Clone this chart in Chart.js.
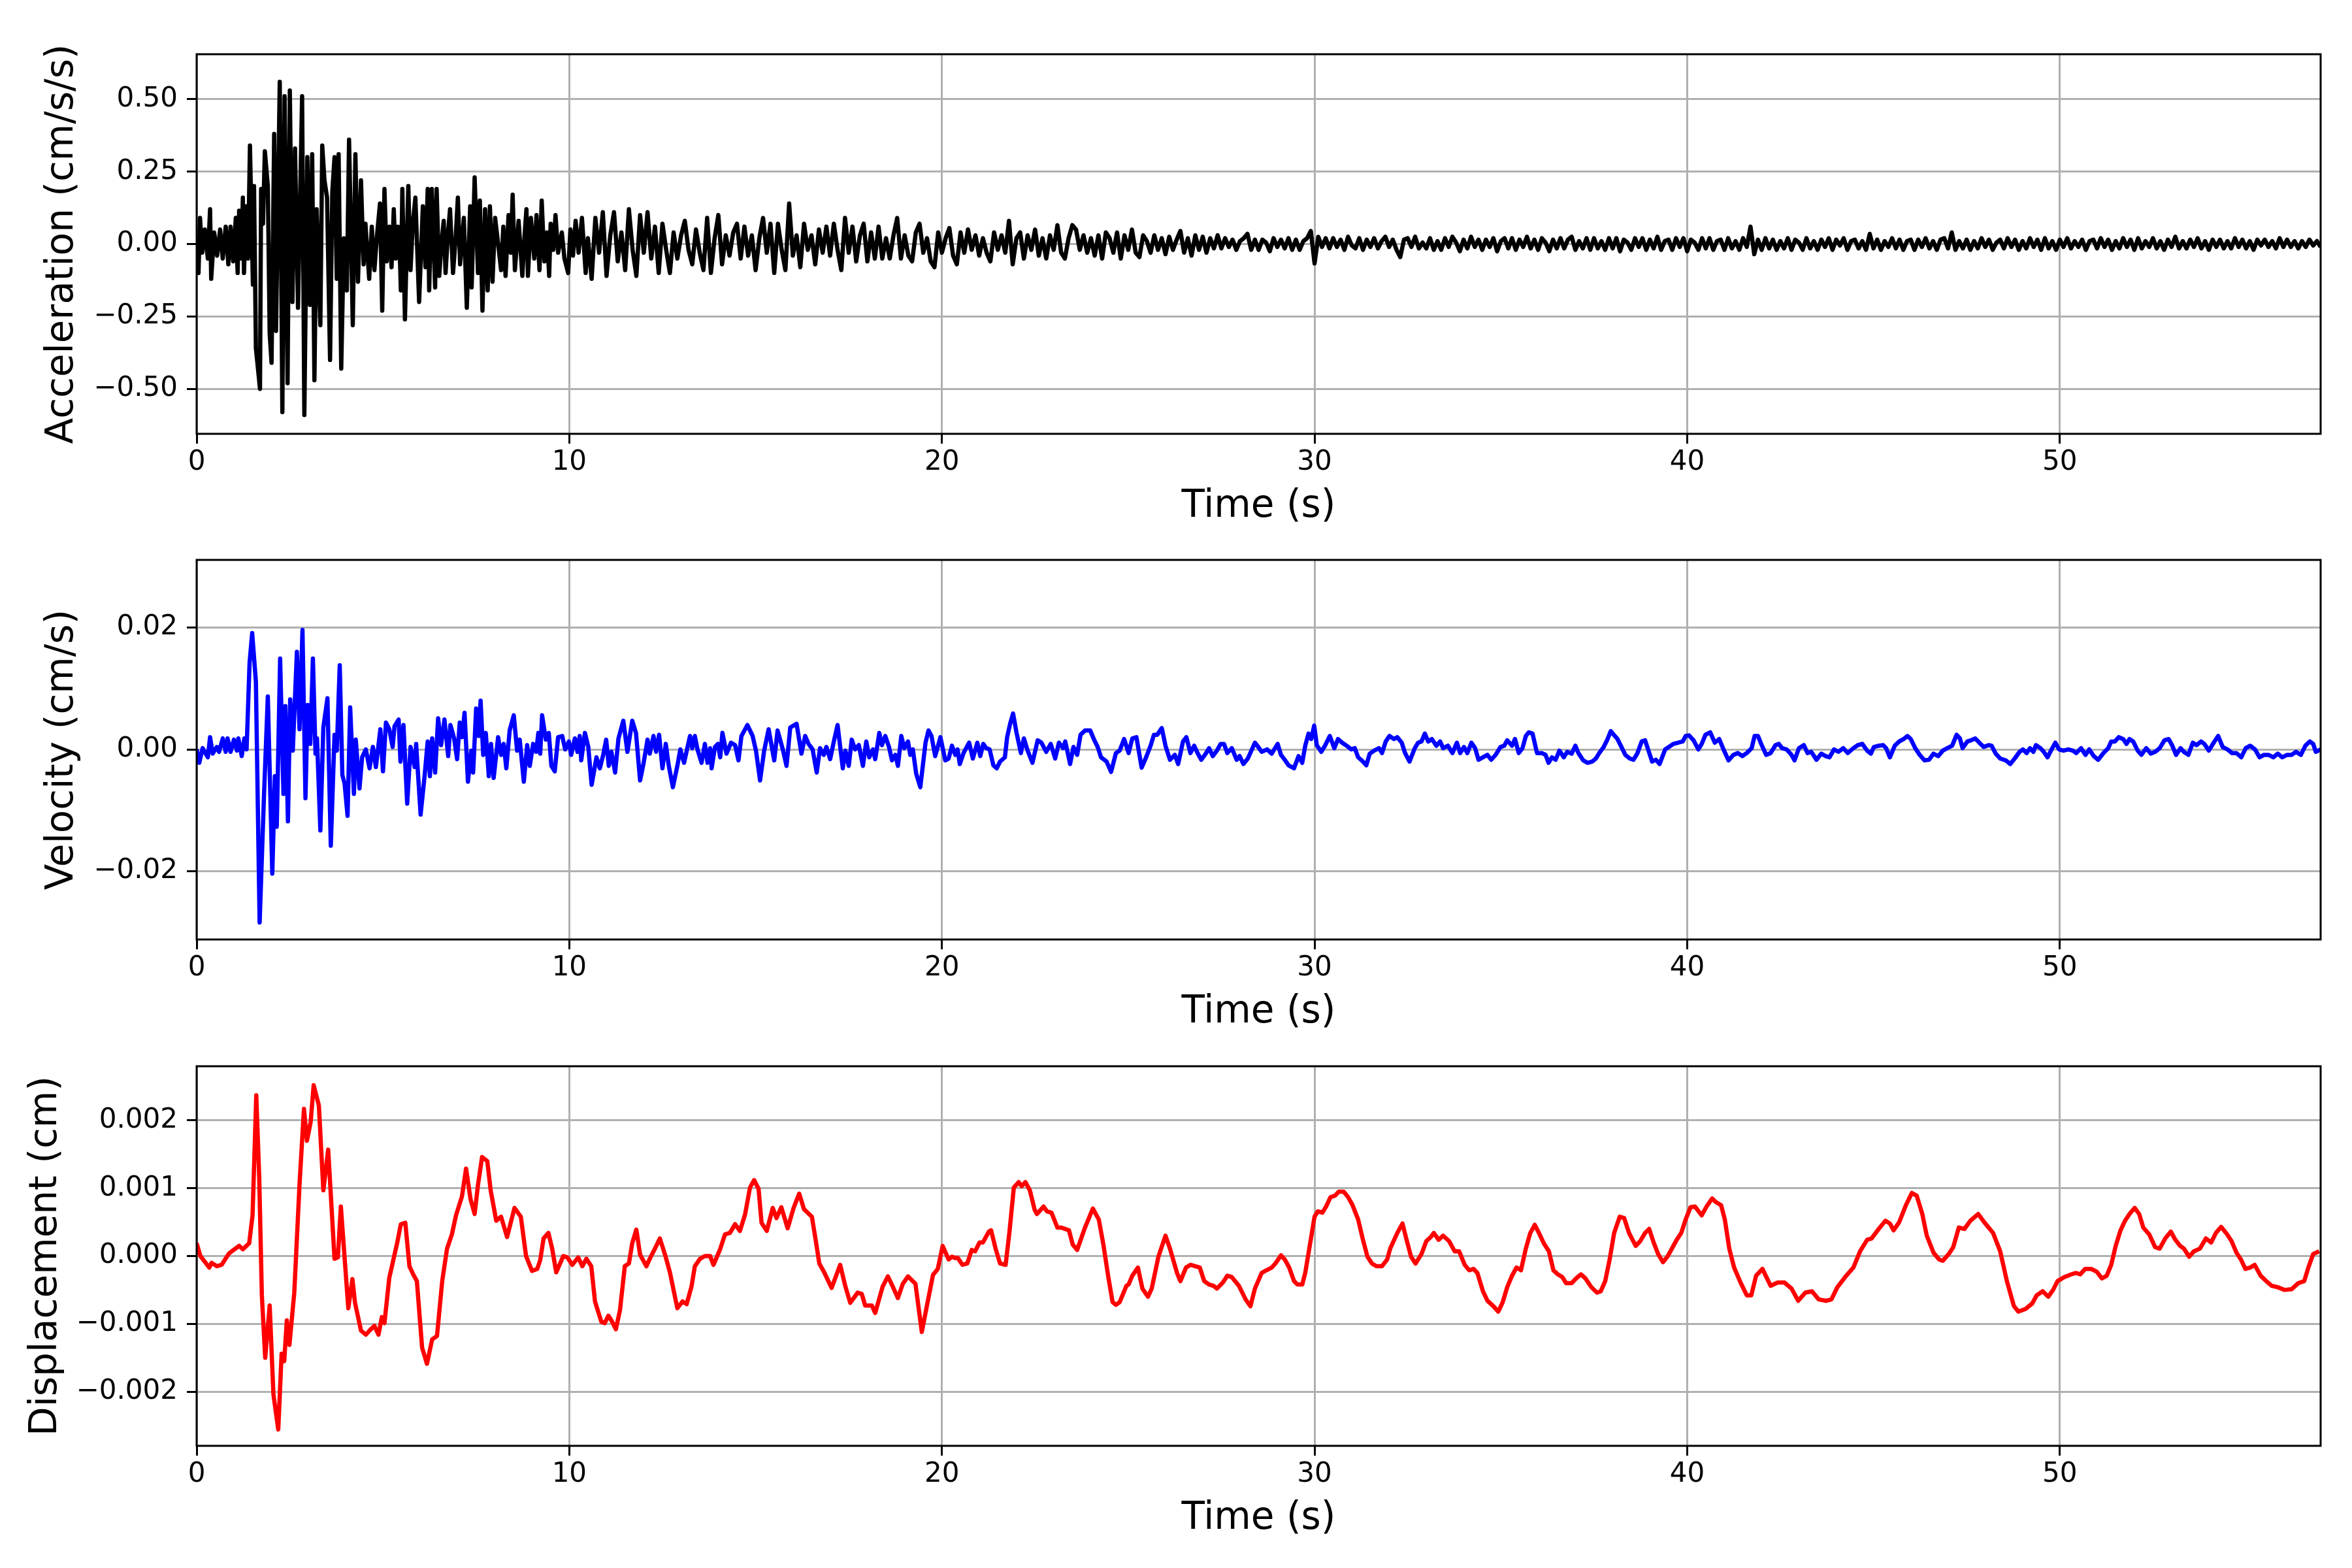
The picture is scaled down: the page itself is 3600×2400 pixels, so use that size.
<!DOCTYPE html>
<html>
<head>
<meta charset="utf-8">
<script src="https://cdn.jsdelivr.net/npm/chart.js@4.4.1/dist/chart.umd.min.js"></script>
<style>
    body { margin: 0; background: #ffffff; width: 3600px; height: 2400px; overflow: hidden; }
    canvas { position: absolute; left: 0; }
</style>
</head>
<body>
<canvas id="accChart" width="3600" height="830" style="top:0px"></canvas>
<canvas id="velChart" width="3600" height="830" style="top:774px"></canvas>
<canvas id="dispChart" width="3600" height="830" style="top:1549px"></canvas>
<script>
// ===============================
// DATA
// ===============================
const timeTicks = [0, 10, 20, 30, 40, 50];
const accTicks = [-0.5, -0.25, 0, 0.25, 0.5];
const velTicks = [-0.02, 0, 0.02];
const dispTicks = [-0.002, -0.001, 0, 0.001, 0.002];

// acceleration, strong-motion part: peaks and troughs (s, cm/s/s)
const accTime = [
    0, 0.05, 0.09, 0.15, 0.22, 0.3, 0.36, 0.39, 0.47, 0.55, 0.63, 0.7, 0.78, 0.85, 0.91, 0.98,
    1.05, 1.1, 1.14, 1.2, 1.24, 1.27, 1.33, 1.38, 1.43, 1.51, 1.54, 1.59, 1.63, 1.7, 1.73, 1.78,
    1.83, 1.91, 1.96, 2.01, 2.08, 2.13, 2.23, 2.3, 2.36, 2.44, 2.5, 2.57, 2.64, 2.72, 2.83, 2.89,
    2.97, 3.04, 3.1, 3.16, 3.22, 3.32, 3.37, 3.43, 3.5, 3.58, 3.64, 3.7, 3.76, 3.81, 3.88, 3.95,
    4.03, 4.09, 4.19, 4.26, 4.33, 4.41, 4.48, 4.53, 4.63, 4.7, 4.77, 4.84, 4.92, 4.98, 5.04, 5.1,
    5.17, 5.23, 5.29, 5.34, 5.4, 5.46, 5.48, 5.52, 5.59, 5.68, 5.74, 5.8, 5.87, 5.97, 6.07, 6.14,
    6.2, 6.24, 6.31, 6.4, 6.44, 6.51, 6.57, 6.63, 6.68, 6.74, 6.8, 6.88, 6.95, 7.01, 7.07, 7.17,
    7.25, 7.34, 7.38, 7.46, 7.55, 7.6, 7.67, 7.74, 7.81, 7.87, 7.94, 8.01, 8.1, 8.17, 8.23, 8.29,
    8.37, 8.43, 8.48, 8.54, 8.64, 8.74, 8.8, 8.85, 8.89, 8.97, 9.06, 9.12, 9.2, 9.26, 9.33, 9.4,
    9.46, 9.5, 9.57, 9.63, 9.7, 9.8, 9.87, 9.97, 10.03, 10.1, 10.17, 10.25, 10.34, 10.44
];
const accValue = [
    0.02, -0.1, 0.09, -0.03, 0.05, -0.05, 0.12, -0.12, 0.04, -0.04, 0.05, -0.05, 0.06, -0.07, 0.06, -0.06,
    0.09, -0.1, 0.115, -0.05, 0.16, -0.1, 0.13, -0.05, 0.34, -0.14, 0.2, -0.36, -0.41, -0.5, 0.19, 0.07,
    0.32, 0.2, -0.31, -0.41, 0.38, -0.3, 0.56, -0.58, 0.51, -0.48, 0.53, -0.2, 0.33, -0.22, 0.51, -0.59,
    0.3, -0.21, 0.31, -0.47, 0.12, -0.28, 0.34, 0.22, 0.16, -0.4, 0.18, 0.3, -0.12, 0.31, -0.43, 0.02,
    -0.16, 0.36, -0.28, 0.31, -0.13, 0.22, -0.07, 0.07, -0.12, 0.06, -0.09, 0.03, 0.14, -0.23, 0.19, -0.06,
    0.06, -0.08, 0.12, -0.05, 0.06, -0.07, -0.16, 0.19, -0.26, 0.2, -0.09, 0.07, 0.16, -0.2, 0.13, -0.08,
    0.19, -0.16, 0.19, -0.15, 0.19, -0.11, 0.0, 0.08, -0.1, 0.03, 0.12, -0.1, 0.02, 0.16, -0.07, 0.09,
    -0.22, 0.13, -0.15, 0.23, -0.1, 0.15, -0.23, 0.12, -0.16, 0.13, -0.13, 0.09, -0.01, -0.09, 0.06, -0.11,
    0.1, -0.03, 0.17, -0.09, 0.08, -0.11, 0.03, 0.12, -0.11, 0.09, -0.05, 0.1, -0.09, 0.15, -0.06, 0.04,
    -0.11, 0.07, -0.02, 0.1, -0.03, 0.04, -0.05, -0.1, 0.05, -0.04, 0.08, -0.03, 0.09, -0.1
];

// acceleration coda, every 0.1 s from 10.5 s
const accTailStart = 10.5;
const accTailStep = 0.1;
const accTail = [
    0.02, -0.12, 0.09, -0.03, 0.11, -0.11, 0.03, 0.11, -0.06, 0.04,
    -0.09, 0.12, -0.02, -0.11, 0.10, -0.03, 0.11, -0.05, 0.06, -0.10,
    0.07, -0.02, -0.10, 0.04, -0.05, 0.03, 0.08, -0.02, -0.07, 0.05,
    -0.03, -0.09, 0.09, -0.10, 0.02, 0.10, -0.07, 0.03, -0.04, 0.04,
    0.07, -0.05, 0.06, -0.04, 0.03, -0.09, 0.02, 0.09, -0.03, 0.07,
    -0.10, 0.07, -0.02, -0.09, 0.14, -0.04, 0.03, -0.08, 0.07, -0.02,
    0.03, -0.07, 0.05, -0.03, 0.06, -0.04, 0.07, -0.02, -0.09, 0.09,
    -0.03, 0.06, -0.06, 0.03, 0.07, -0.06, 0.04, -0.05, 0.06, -0.05,
    0.02, -0.05, 0.03, 0.09, -0.05, 0.03, -0.04, -0.06, 0.04, 0.07,
    -0.03, 0.02, -0.06, -0.08, 0.04, -0.03, 0.02, 0.055, -0.04, -0.07,
    0.04, -0.03, 0.05, -0.02, 0.03, -0.04, 0.02, -0.03, -0.06, 0.04,
    -0.02, 0.03, -0.03, 0.08, -0.07, 0.02, 0.04, -0.05, 0.03, -0.02,
    0.05, -0.04, 0.02, -0.05, 0.03, -0.02, 0.065, -0.03, -0.05, 0.02,
    0.065, 0.05, -0.02, 0.03, -0.03, 0.02, -0.04, 0.03, -0.05, 0.04,
    0.02, -0.03, 0.04, -0.05, 0.03, -0.02, 0.05, -0.03, -0.045, 0.03,
    0.01, -0.03, 0.03, -0.02, 0.02, -0.035, 0.025, -0.02, 0.015, 0.045,
    -0.03, 0.02, -0.04, 0.03, -0.02, 0.025, -0.03, 0.02, -0.015, 0.03,
    -0.015, 0.02, -0.01, 0.015, -0.02, 0.01, 0.02, 0.035, -0.02, 0.015,
    -0.02, 0.015, 0.005, -0.025, 0.02, -0.01, 0.015, -0.015, 0.02, -0.02,
    0.015, -0.02, 0.01, 0.02, 0.045, -0.067, 0.025, -0.01, 0.02, -0.015,
    0.02, -0.01, 0.015, -0.02, 0.025, -0.005, -0.015, 0.02, -0.02, 0.015,
    -0.01, 0.02, -0.015, 0.01, 0.025, -0.01, 0.015, -0.02, -0.045, 0.015,
    0.02, -0.01, 0.025, -0.015, 0.005, -0.015, 0.02, -0.02, 0.01, -0.02,
    0.02, -0.01, 0.025, 0.005, -0.025, 0.015, -0.015, 0.025, -0.01, 0.015,
    -0.02, 0.015, -0.01, 0.02, -0.025, 0.01, 0.02, -0.015, 0.02, -0.02,
    0.015, -0.01, 0.025, -0.015, 0.015, -0.02, 0.02, 0.005, -0.025, 0.015,
    -0.015, 0.02, -0.015, 0.015, 0.025, -0.02, 0.01, -0.015, 0.02, -0.02,
    0.02, -0.015, 0.01, -0.02, 0.02, -0.015, 0.02, -0.025, 0.015, 0.005,
    -0.02, 0.02, -0.01, 0.02, -0.02, 0.015, -0.015, 0.025, -0.02, 0.01,
    0.015, -0.02, 0.02, -0.01, 0.02, -0.025, 0.015, 0.005, -0.02, 0.02,
    -0.015, 0.02, -0.02, 0.01, 0.015, -0.02, 0.02, -0.015, 0.01, -0.02,
    0.02, -0.01, 0.06, -0.035, 0.015, -0.02, 0.02, -0.015, 0.015, -0.02,
    0.01, -0.015, 0.02, -0.02, 0.015, 0.005, -0.02, 0.02, -0.015, 0.01,
    -0.02, 0.015, -0.01, 0.02, -0.02, 0.015, -0.005, 0.02, -0.02, 0.01,
    0.015, -0.015, 0.01, -0.02, 0.035, -0.015, 0.015, -0.02, 0.01, -0.01,
    0.02, -0.015, 0.015, -0.02, 0.01, 0.015, -0.02, 0.015, -0.01, 0.02,
    -0.015, 0.01, -0.02, 0.015, 0.02, -0.015, 0.04, -0.02, 0.01, -0.015,
    0.015, -0.02, 0.01, -0.015, 0.02, -0.01, 0.015, -0.02, 0.005, 0.015,
    -0.015, 0.02, -0.01, 0.015, -0.02, 0.01, -0.015, 0.02, -0.01, 0.015,
    -0.02, 0.02, -0.015, 0.01, -0.02, 0.015, -0.01, 0.02, -0.015, 0.01,
    -0.01, 0.015, -0.02, 0.01, 0.015, -0.015, 0.02, -0.01, 0.015, -0.02,
    0.01, -0.015, 0.02, -0.01, 0.015, -0.02, 0.02, -0.015, 0.01, -0.01,
    0.02, -0.015, 0.01, -0.02, 0.015, -0.01, 0.025, -0.015, 0.01, -0.015,
    0.015, -0.01, 0.02, -0.015, 0.01, -0.02, 0.015, -0.01, 0.015, -0.015,
    0.01, -0.015, 0.02, -0.01, 0.015, -0.015, 0.01, -0.02, 0.015, -0.005,
    0.015, -0.01, 0.01, -0.015, 0.02, -0.01, 0.015, -0.01, 0.01, -0.015,
    0.01, -0.01, 0.015, -0.005, 0.01, -0.01
];

// velocity (s, cm/s)
const velTime = [
    0, 0.07, 0.16, 0.3, 0.36, 0.43, 0.54, 0.6, 0.7, 0.78, 0.83, 0.91, 1.0, 1.08, 1.12, 1.21,
    1.28, 1.34, 1.42, 1.49, 1.59, 1.69, 1.81, 1.91, 2.03, 2.1, 2.15, 2.24, 2.33, 2.38, 2.45, 2.51,
    2.58, 2.69, 2.76, 2.84, 2.92, 2.98, 3.05, 3.12, 3.19, 3.23, 3.32, 3.4, 3.51, 3.6, 3.7, 3.76,
    3.84, 3.91, 3.97, 4.05, 4.12, 4.22, 4.27, 4.37, 4.44, 4.54, 4.64, 4.73, 4.81, 4.93, 5.0, 5.08,
    5.17, 5.26, 5.31, 5.42, 5.47, 5.55, 5.65, 5.74, 5.85, 5.89, 6.01, 6.12, 6.2, 6.26, 6.32, 6.4,
    6.48, 6.56, 6.65, 6.75, 6.81, 6.91, 6.99, 7.06, 7.12, 7.19, 7.28, 7.37, 7.42, 7.5, 7.57, 7.62,
    7.69, 7.76, 7.84, 7.9, 7.97, 8.09, 8.17, 8.24, 8.31, 8.4, 8.51, 8.6, 8.67, 8.78, 8.87, 8.94,
    9.03, 9.11, 9.17, 9.22, 9.27, 9.37, 9.45, 9.52, 9.61, 9.7, 9.81, 9.89, 9.99, 10.05, 10.15, 10.22,
    10.28, 10.32, 10.42, 10.51, 10.6, 10.73, 10.82, 10.91, 10.99, 11.06, 11.13, 11.23, 11.32, 11.45, 11.56, 11.69,
    11.79, 11.9, 11.99, 12.1, 12.16, 12.26, 12.33, 12.41, 12.5, 12.59, 12.67, 12.78, 12.9, 12.98, 13.08, 13.24,
    13.3, 13.37, 13.44, 13.55, 13.64, 13.71, 13.78, 13.82, 13.91, 13.99, 14.05, 14.11, 14.22, 14.34, 14.45, 14.54,
    14.62, 14.78, 14.92, 15.01, 15.12, 15.23, 15.35, 15.5, 15.59, 15.73, 15.83, 15.93, 16.1, 16.23, 16.33, 16.42,
    16.53, 16.64, 16.73, 16.83, 16.9, 17.0, 17.1, 17.2, 17.34, 17.41, 17.5, 17.58, 17.67, 17.77, 17.88, 17.97,
    18.05, 18.15, 18.21, 18.32, 18.39, 18.48, 18.58, 18.66, 18.75, 18.82, 18.91, 18.99, 19.09, 19.15, 19.22, 19.31,
    19.42, 19.56, 19.64, 19.72, 19.82, 19.96, 20.09, 20.18, 20.27, 20.36, 20.42, 20.48, 20.58, 20.73, 20.83, 20.95,
    21.03, 21.11, 21.19, 21.28, 21.38, 21.47, 21.56, 21.69, 21.75, 21.83, 21.91, 22.0, 22.12, 22.2, 22.3, 22.43,
    22.57, 22.67, 22.8, 22.92, 23.04, 23.14, 23.25, 23.31, 23.44, 23.53, 23.63, 23.72, 23.84, 23.98, 24.09, 24.18,
    24.27, 24.42, 24.54, 24.67, 24.77, 24.89, 25.01, 25.11, 25.22, 25.36, 25.48, 25.6, 25.69, 25.78, 25.9, 26.0,
    26.12, 26.25, 26.34, 26.47, 26.56, 26.67, 26.77, 26.86, 26.96, 27.08, 27.17, 27.27, 27.38, 27.48, 27.57, 27.66,
    27.78, 27.91, 27.99, 28.09, 28.21, 28.4, 28.49, 28.58, 28.73, 28.85, 29.01, 29.1, 29.2, 29.3, 29.45, 29.57,
    29.67, 29.75, 29.84, 29.91, 29.99, 30.06, 30.18, 30.28, 30.41, 30.53, 30.63, 30.74, 30.86, 30.99, 31.08, 31.17,
    31.3, 31.39, 31.48, 31.6, 31.73, 31.81, 31.91, 32.01, 32.13, 32.22, 32.34, 32.43, 32.55, 32.69, 32.78, 32.87,
    32.96, 33.05, 33.15, 33.27, 33.37, 33.45, 33.58, 33.7, 33.82, 33.91, 34.01, 34.1, 34.21, 34.31, 34.4, 34.52,
    34.64, 34.74, 34.86, 34.99, 35.09, 35.17, 35.3, 35.38, 35.48, 35.58, 35.67, 35.75, 35.85, 35.97, 36.1, 36.2,
    36.28, 36.37, 36.47, 36.57, 36.69, 36.78, 36.9, 37.0, 37.08, 37.21, 37.33, 37.45, 37.55, 37.64, 37.76, 37.85,
    37.95, 38.03, 38.13, 38.22, 38.34, 38.46, 38.56, 38.66, 38.78, 38.87, 39.06, 39.16, 39.26, 39.41, 39.51, 39.63,
    39.75, 39.88, 39.96, 40.05, 40.17, 40.3, 40.39, 40.49, 40.62, 40.74, 40.86, 40.99, 41.11, 41.24, 41.36, 41.48,
    41.6, 41.73, 41.81, 41.9, 42.0, 42.12, 42.24, 42.37, 42.46, 42.55, 42.67, 42.8, 42.88, 43.0, 43.13, 43.23,
    43.33, 43.47, 43.6, 43.72, 43.82, 43.94, 44.06, 44.19, 44.31, 44.46, 44.58, 44.7, 44.83, 44.93, 45.01, 45.14,
    45.26, 45.34, 45.44, 45.57, 45.69, 45.81, 45.91, 46.0, 46.12, 46.24, 46.37, 46.49, 46.61, 46.74, 46.86, 46.98,
    47.11, 47.23, 47.32, 47.39, 47.52, 47.62, 47.73, 47.84, 47.96, 48.09, 48.17, 48.28, 48.4, 48.55, 48.67, 48.79,
    48.92, 49.01, 49.11, 49.2, 49.29, 49.36, 49.48, 49.57, 49.67, 49.78, 49.88, 49.98, 50.1, 50.23, 50.35, 50.44,
    50.57, 50.69, 50.79, 50.91, 51.03, 51.17, 51.3, 51.38, 51.48, 51.58, 51.7, 51.79, 51.87, 51.97, 52.09, 52.19,
    52.32, 52.44, 52.56, 52.68, 52.81, 52.92, 53.02, 53.12, 53.24, 53.33, 53.45, 53.57, 53.67, 53.79, 53.88, 54.0,
    54.13, 54.25, 54.37, 54.5, 54.62, 54.74, 54.87, 54.99, 55.11, 55.24, 55.36, 55.48, 55.6, 55.73, 55.85, 55.97,
    56.1, 56.22, 56.34, 56.47, 56.59, 56.71, 56.8, 56.87, 57.0
];
const velValue = [
    0, -0.0022, 0.0002, -0.0013, 0.002, -0.0007, 0.0004, -0.0004, 0.0018, -0.0004, 0.0018, -0.0004, 0.0016, -0.0002, 0.0018, -0.0011,
    0.0018, 0, 0.0142, 0.0191, 0.0111, -0.0284, -0.0071, 0.0087, -0.0204, -0.0044, -0.0127, 0.0149, -0.0073, 0.0071, -0.0118, 0.0082,
    -0.0002, 0.016, 0.0033, 0.0196, -0.008, 0.0073, 0.0009, 0.0149, -0.0007, 0.0018, -0.0133, 0.0036, 0.0084, -0.0158, 0.0024, -0.0002,
    0.0138, -0.0042, -0.0056, -0.0109, 0.0069, -0.0073, 0.0016, -0.0064, -0.0013, 0, -0.0031, 0.0004, -0.0029, 0.0033, -0.0036, 0.0044,
    0.0033, 0.0004, 0.0038, 0.0049, -0.002, 0.004, -0.0089, 0.0004, -0.0029, 0.0009, -0.0107, -0.0042, 0.0013, -0.0044, 0.0018, -0.0038,
    0.0051, 0.0007, 0.0049, -0.0011, 0.004, 0.0018, -0.0016, 0.0044, 0.002, 0.006, -0.0053, -0.0002, -0.0038, 0.0067, 0.0022, 0.008,
    -0.0009, 0.0027, -0.0044, 0.0009, -0.0047, 0.002, -0.0009, 0.0009, -0.0031, 0.0031, 0.0056, -0.0002, 0.0016, -0.0053, 0.0007, -0.0027,
    0.0009, -0.0004, 0.0027, -0.0007, 0.0056, 0.0016, 0.0027, -0.0027, -0.0036, 0.002, 0.0022, 0, 0.0013, -0.0009, 0.0018, -0.0004,
    0.0022, -0.0018, 0.0027, 0.0004, -0.0058, -0.0013, -0.0031, -0.0009, 0.0016, -0.0027, -0.0004, -0.0038, 0.0018, 0.0047, -0.0004, 0.0047,
    0.0027, -0.0051, -0.0024, 0.0016, -0.0007, 0.0022, -0.0004, 0.0024, -0.0031, 0.0009, -0.0027, -0.0062, -0.0027, 0, -0.0022, 0.0022,
    0.0002, 0.0022, 0, -0.0022, 0.0009, -0.0022, 0.0002, -0.0031, 0.0004, 0.0009, -0.0013, 0.0027, -0.0007, 0.0011, 0.0007, -0.0018,
    0.0022, 0.004, 0.0022, -0.0002, -0.0051, -0.0002, 0.0033, -0.0018, 0.0031, 0, -0.0027, 0.0036, 0.0042, -0.0007, 0.0022, 0.0009,
    0, -0.0038, 0.0002, -0.0009, 0.0004, -0.0016, 0.0013, 0.004, -0.0031, -0.0002, -0.0027, 0.0016, 0, 0.0007, -0.0027, 0.0013,
    -0.0013, 0, -0.0016, 0.0027, 0.0007, 0.0022, 0.0004, -0.0018, -0.0009, -0.0027, 0.0022, 0.0002, 0.0013, -0.0009, 0, -0.004,
    -0.0062, 0.0011, 0.0031, 0.0022, -0.0011, 0.002, -0.0018, -0.0015, 0.0006, -0.0009, 0, -0.0024, -0.0006, 0.0011, -0.0015, 0.0011,
    -0.0011, 0.0009, 0.0002, 0, -0.0026, -0.0031, -0.002, -0.0013, 0.002, 0.0042, 0.0059, 0.0028, -0.0006, 0.0018, -0.0002, -0.0022,
    0.0015, 0.0011, -0.0004, 0.0009, -0.0015, 0.0011, 0.0002, 0.0013, -0.0024, 0.0004, -0.0009, 0.0024, 0.0031, 0.0031, 0.0015, 0.0004,
    -0.0013, -0.002, -0.0037, -0.0006, -0.0002, 0.0017, -0.0006, 0.0018, 0.002, -0.003, -0.0013, 0.0006, 0.0024, 0.0024, 0.0035, 0.0006,
    -0.0017, -0.0009, -0.0024, 0.0013, 0.002, -0.0006, 0.0006, -0.0006, -0.0017, -0.0007, 0.0002, -0.0011, -0.0002, 0.0009, 0.0009, -0.0006,
    0.0002, -0.0017, -0.0011, -0.0024, -0.0015, 0.0011, 0.0004, -0.0004, 0, -0.0007, 0.0009, -0.0009, -0.0017, -0.0026, -0.0031, -0.0011,
    -0.0022, 0.0006, 0.0026, 0.0017, 0.0039, 0.0007, -0.0004, 0.0006, 0.0022, 0.0002, 0.0017, 0.0011, 0.0006, 0, 0.0002, -0.0013,
    -0.002, -0.0026, -0.0007, -0.0002, 0.0002, -0.0006, 0.0013, 0.0022, 0.0017, 0.002, 0.0011, -0.0006, -0.002, 0.0002, 0.0011, 0.0013,
    0.0026, 0.0013, 0.0017, 0.0006, 0.0013, 0.0002, 0.0006, -0.0006, 0.0011, -0.0006, 0.0004, -0.0006, 0.0011, 0.0002, -0.0017, -0.0013,
    -0.0009, -0.0017, -0.0009, 0.0004, 0.0006, 0.0015, 0.0006, 0.0017, -0.0006, 0.0002, 0.0022, 0.0028, 0.0026, -0.0006, -0.0006, -0.0009,
    -0.0022, -0.0013, -0.0017, -0.0002, -0.0013, -0.0004, -0.0007, 0.0006, -0.0006, -0.0018, -0.0022, -0.002, -0.0015, -0.0006, 0.0004, 0.0015,
    0.003, 0.0024, 0.0017, 0.0006, -0.0009, -0.0015, -0.0017, -0.0007, 0.0013, 0.0015, -0.002, -0.0017, -0.0024, 0, 0.0004, 0.0009,
    0.0011, 0.0013, 0.0022, 0.0023, 0.0015, 0, 0.0009, 0.0024, 0.0028, 0.0011, 0.0017, -0.0002, -0.0018, -0.0009, -0.0006, -0.0011,
    -0.0006, 0.0002, 0.0022, 0.0022, 0.0007, -0.0009, -0.0006, 0.0007, 0.0009, 0.0002, 0, -0.0009, -0.0018, 0.0002, 0.0007, -0.0006,
    -0.0004, -0.0017, -0.0007, -0.0011, -0.0013, 0, -0.0004, 0.0002, -0.0006, 0.0002, 0.0007, 0.0009, -0.0002, -0.0007, 0.0004, 0.0006,
    0.0007, 0.0002, -0.0013, 0.0006, 0.0013, 0.0017, 0.0022, 0.0017, 0.0002, -0.0009, -0.0018, -0.0017, -0.0007, -0.0011, -0.0002, 0.0002,
    0.0006, 0.0024, 0.0018, 0.0002, 0.0013, 0.0015, 0.0018, 0.0011, 0.0004, 0.0007, 0.0006, -0.0007, -0.0015, -0.0018, -0.0024, -0.0015,
    -0.0004, 0, -0.0006, 0.0002, -0.0004, 0.0007, 0.0002, -0.0004, -0.0013, 0, 0.0011, 0, -0.0002, 0, -0.0002, -0.0006,
    0.0002, -0.0009, 0, -0.0011, -0.0017, -0.0006, 0.0002, 0.0013, 0.0013, 0.002, 0.0017, 0.0009, 0.0017, 0.0013, -0.0002, -0.0009,
    0.0002, -0.0007, -0.0004, 0.0002, 0.0015, 0.0017, 0.0006, -0.0009, 0.0002, -0.0004, -0.0009, 0.0011, 0.0007, 0.0013, 0.0009, -0.0002,
    0.0011, 0.0022, 0.0004, 0, -0.0006, -0.0006, -0.0013, 0.0002, 0.0006, 0, -0.0013, -0.0009, -0.0009, -0.0013, -0.0007, -0.0013,
    -0.0009, -0.0009, -0.0004, -0.0009, 0.0006, 0.0013, 0.0009, -0.0004, 0
];

// displacement (s, cm)
const dispTime = [
    0, 0.1, 0.34, 0.4, 0.54, 0.67, 0.87, 1.14, 1.24, 1.41, 1.5, 1.6, 1.68, 1.75, 1.84, 1.96,
    2.06, 2.19, 2.28, 2.35, 2.42, 2.49, 2.62, 2.76, 2.88, 2.96, 3.06, 3.14, 3.28, 3.4, 3.53, 3.7,
    3.79, 3.87, 4.07, 4.18, 4.25, 4.41, 4.54, 4.64, 4.77, 4.88, 4.97, 5.04, 5.17, 5.38, 5.48, 5.6,
    5.71, 5.82, 5.91, 6.05, 6.18, 6.32, 6.45, 6.59, 6.72, 6.85, 6.96, 7.12, 7.23, 7.35, 7.46, 7.55,
    7.66, 7.8, 7.89, 8.04, 8.17, 8.33, 8.53, 8.7, 8.84, 9.0, 9.14, 9.22, 9.31, 9.44, 9.54, 9.65,
    9.84, 9.95, 10.08, 10.24, 10.35, 10.46, 10.59, 10.69, 10.86, 10.95, 11.05, 11.13, 11.25, 11.36, 11.49, 11.6,
    11.69, 11.8, 11.9, 12.07, 12.16, 12.3, 12.43, 12.57, 12.7, 12.9, 13.04, 13.15, 13.28, 13.37, 13.51, 13.64,
    13.78, 13.87, 14.04, 14.18, 14.31, 14.45, 14.58, 14.72, 14.85, 14.96, 15.08, 15.16, 15.3, 15.46, 15.56, 15.69,
    15.86, 16.02, 16.17, 16.3, 16.51, 16.6, 16.71, 16.84, 17.04, 17.27, 17.41, 17.54, 17.74, 17.85, 17.94, 18.12,
    18.21, 18.41, 18.55, 18.68, 18.82, 18.95, 19.09, 19.29, 19.46, 19.62, 19.76, 19.89, 20.02, 20.18, 20.27, 20.36,
    20.43, 20.55, 20.68, 20.8, 20.89, 21.01, 21.1, 21.26, 21.32, 21.44, 21.56, 21.71, 21.81, 21.93, 22.06, 22.14,
    22.24, 22.36, 22.49, 22.55, 22.73, 22.82, 22.94, 23.1, 23.2, 23.41, 23.51, 23.63, 23.84, 24.05, 24.21, 24.33,
    24.46, 24.58, 24.67, 24.77, 24.95, 25.01, 25.11, 25.26, 25.38, 25.53, 25.63, 25.81, 26.0, 26.12, 26.31, 26.4,
    26.55, 26.67, 26.8, 26.92, 27.04, 27.17, 27.29, 27.38, 27.54, 27.66, 27.78, 27.97, 28.15, 28.28, 28.4, 28.58,
    28.71, 28.85, 28.95, 29.1, 29.2, 29.32, 29.45, 29.54, 29.67, 29.75, 29.88, 30.0, 30.09, 30.21, 30.31, 30.43,
    30.55, 30.65, 30.78, 30.9, 31.02, 31.17, 31.29, 31.42, 31.54, 31.66, 31.81, 31.95, 32.03, 32.22, 32.36, 32.46,
    32.59, 32.71, 32.87, 33.0, 33.12, 33.2, 33.33, 33.45, 33.61, 33.76, 33.88, 34.03, 34.15, 34.27, 34.37, 34.52,
    34.64, 34.8, 34.93, 35.05, 35.17, 35.3, 35.42, 35.54, 35.67, 35.79, 35.91, 36.04, 36.16, 36.29, 36.41, 36.53,
    36.65, 36.75, 36.9, 37.02, 37.15, 37.27, 37.43, 37.58, 37.68, 37.8, 37.92, 38.04, 38.19, 38.31, 38.44, 38.62,
    38.74, 38.87, 38.98, 39.1, 39.22, 39.35, 39.47, 39.59, 39.72, 39.84, 39.96, 40.09, 40.21, 40.39, 40.52, 40.67,
    40.76, 40.91, 41.01, 41.13, 41.26, 41.44, 41.6, 41.72, 41.85, 42.02, 42.24, 42.43, 42.61, 42.8, 42.98, 43.17,
    43.35, 43.53, 43.72, 43.87, 44.03, 44.24, 44.46, 44.64, 44.83, 44.95, 45.14, 45.32, 45.44, 45.54, 45.69, 45.87,
    46.03, 46.16, 46.31, 46.43, 46.61, 46.76, 46.86, 47.02, 47.14, 47.29, 47.44, 47.6, 47.81, 47.97, 48.21, 48.4,
    48.58, 48.77, 48.89, 49.08, 49.26, 49.38, 49.54, 49.69, 49.82, 49.94, 50.12, 50.31, 50.43, 50.55, 50.68, 50.84,
    50.99, 51.13, 51.26, 51.38, 51.5, 51.63, 51.75, 51.87, 52.01, 52.13, 52.24, 52.4, 52.56, 52.68, 52.83, 52.98,
    53.1, 53.23, 53.33, 53.47, 53.6, 53.76, 53.92, 54.06, 54.19, 54.33, 54.49, 54.61, 54.74, 54.86, 54.98, 55.11,
    55.23, 55.39, 55.54, 55.69, 55.85, 56.03, 56.22, 56.4, 56.56, 56.67, 56.8, 56.96
];
const dispValue = [
    0.00019, 0.0, -0.00017, -0.0001, -0.00015, -0.00013, 0.00004, 0.00015, 0.0001, 0.00019, 0.0006, 0.00237, 0.00114, -0.00058, -0.0015, -0.00073,
    -0.00204, -0.00256, -0.00144, -0.00155, -0.00095, -0.00131, -0.00054, 0.00105, 0.00217, 0.0017, 0.00198, 0.00252, 0.00222, 0.00097, 0.00157, -0.00004,
    -0.00002, 0.00073, -0.00077, -0.00034, -0.00069, -0.0011, -0.00116, -0.0011, -0.00103, -0.00116, -0.0009, -0.00099, -0.00032, 0.00019, 0.00047, 0.00049,
    -0.00015, -0.00028, -0.00037, -0.00135, -0.00159, -0.00123, -0.00118, -0.00037, 0.00011, 0.00032, 0.0006, 0.00088, 0.00129, 0.00084, 0.00062, 0.00105,
    0.00146, 0.0014, 0.00097, 0.00052, 0.00058, 0.00028, 0.00071, 0.00058, 0.0, -0.00022, -0.00019, -0.00006, 0.00026, 0.00034, 0.00011, -0.00024,
    0.0, -0.00002, -0.00013, -0.00002, -0.00015, -0.00004, -0.00015, -0.00067, -0.00097, -0.00099, -0.00088, -0.00095, -0.00108, -0.0008, -0.00015, -0.00011,
    0.00019, 0.00039, 0.00002, -0.00015, -0.00004, 0.00011, 0.00026, 0.00002, -0.00024, -0.00077, -0.00067, -0.00071, -0.00045, -0.00015, -0.00004, 0.0,
    0.0, -0.00013, 0.00009, 0.00032, 0.00034, 0.00047, 0.00037, 0.00062, 0.00101, 0.00112, 0.00099, 0.00049, 0.00037, 0.00071, 0.00056, 0.00072,
    0.00041, 0.00071, 0.00092, 0.00069, 0.00058, 0.00028, -0.00011, -0.00024, -0.00047, -0.00013, -0.00045, -0.00069, -0.00054, -0.00056, -0.00073, -0.00073,
    -0.00084, -0.00045, -0.0003, -0.00045, -0.00062, -0.00041, -0.0003, -0.00041, -0.00112, -0.00067, -0.00028, -0.00019, 0.00015, -0.00005, -0.00001, -0.00003,
    -0.00003, -0.00013, -0.00011, 0.00009, 0.00007, 0.0002, 0.0002, 0.00036, 0.00038, 0.00011, -0.00011, -0.00013, 0.00034, 0.00101, 0.00109, 0.00103,
    0.00109, 0.00097, 0.00068, 0.00062, 0.00073, 0.00066, 0.00064, 0.00042, 0.00042, 0.00038, 0.00017, 0.00009, 0.00042, 0.0007, 0.00054, 0.00018,
    -0.00029, -0.00068, -0.00072, -0.00068, -0.00044, -0.00042, -0.00029, -0.00017, -0.00048, -0.0006, -0.00048, -0.00001, 0.0003, 0.00011, -0.00025, -0.00037,
    -0.00017, -0.00013, -0.00015, -0.00017, -0.00037, -0.00042, -0.00044, -0.00048, -0.00039, -0.00029, -0.00031, -0.00044, -0.00064, -0.00074, -0.00048, -0.00025,
    -0.00021, -0.00017, -0.00011, 0.00001, -0.00005, -0.00017, -0.00037, -0.00042, -0.00042, -0.00025, 0.00018, 0.00058, 0.00066, 0.00064, 0.00073, 0.00087,
    0.00089, 0.00095, 0.00095, 0.00087, 0.00075, 0.00054, 0.00026, -0.00001, -0.00011, -0.00015, -0.00015, -0.00005, 0.00011, 0.00034, 0.00048, 0.00026,
    -0.00001, -0.00011, 0.00003, 0.00022, 0.00028, 0.00034, 0.00024, 0.0003, 0.00022, 0.00007, 0.00007, -0.00013, -0.00021, -0.00019, -0.00025, -0.00052,
    -0.00066, -0.00074, -0.00082, -0.00068, -0.00046, -0.00029, -0.00017, -0.00021, 0.00011, 0.00034, 0.00046, 0.00032, 0.00018, 0.00007, -0.00021, -0.00027,
    -0.00031, -0.0004, -0.0004, -0.00033, -0.00027, -0.00033, -0.00046, -0.00054, -0.00052, -0.00037, -0.00005, 0.00034, 0.00058, 0.00056, 0.00034, 0.00015,
    0.00022, 0.00034, 0.0004, 0.0002, 0.00003, -0.00009, -0.00001, 0.00011, 0.00024, 0.00034, 0.00054, 0.00072, 0.00073, 0.0006, 0.00073, 0.00085,
    0.0008, 0.00075, 0.00054, 0.00011, -0.00017, -0.0004, -0.00058, -0.00058, -0.00029, -0.00019, -0.00044, -0.00039, -0.00039, -0.00048, -0.00066, -0.00054,
    -0.00052, -0.00064, -0.00066, -0.00064, -0.00046, -0.00031, -0.00017, 0.00007, 0.00024, 0.00026, 0.0004, 0.00052, 0.00048, 0.00038, 0.0005, 0.00075,
    0.00093, 0.00089, 0.00062, 0.0003, 0.00005, -0.00005, -0.00007, 0.00003, 0.00013, 0.00042, 0.0004, 0.00052, 0.00062, 0.0005, 0.00034, 0.00007,
    -0.00037, -0.00074, -0.00082, -0.00078, -0.0007, -0.00058, -0.00052, -0.0006, -0.0005, -0.00037, -0.00031, -0.00027, -0.00025, -0.00027, -0.00019, -0.00019,
    -0.00023, -0.00033, -0.00029, -0.00013, 0.00015, 0.00038, 0.00052, 0.00062, 0.00071, 0.00062, 0.00042, 0.00032, 0.00013, 0.00011, 0.00026, 0.00036,
    0.00024, 0.00015, 0.00011, -0.00001, 0.00007, 0.00011, 0.00026, 0.0002, 0.00034, 0.00043, 0.00032, 0.00022, 0.00005, -0.00005, -0.00019, -0.00017,
    -0.00013, -0.00029, -0.00037, -0.00044, -0.00046, -0.0005, -0.00049, -0.0004, -0.00037, -0.00017, 0.00003, 0.00007
];

// ===============================
// HELPERS
// ===============================
Chart.defaults.font.family = "'DejaVu Sans', sans-serif";
Chart.defaults.color = "#000000";

function toPoints(times, values) {
    return times.map((t, i) => ({ x: t, y: values[i] }));
}

function tickText(v, digits) {
    return Number(v).toFixed(digits).replace("-", "\u2212");
}

// black frame round the plot area, like matplotlib spines
const framePlugin = {
    id: "frame",
    afterDatasetsDraw(chart) {
        const { ctx, chartArea: a } = chart;
        ctx.save();
        ctx.strokeStyle = "#000000";
        ctx.lineWidth = 3;
        ctx.strokeRect(a.left, a.top, a.right - a.left, a.bottom - a.top);
        ctx.restore();
    }
};

const gridStyle = {
    color: "#b0b0b0",
    lineWidth: 3,
    tickColor: "#000000",
    tickWidth: 3,
    tickLength: 15
};

function drawTrace(canvasId, points, color, yMin, yMax, yTicks, digits, yLabel, labelLeft) {
    return new Chart(document.getElementById(canvasId), {
        type: "line",
        data: {
            datasets: [{
                data: points,
                borderColor: color,
                borderWidth: 6.5,
                borderJoinStyle: "round",
                pointRadius: 0,
                tension: 0
            }]
        },
        options: {
            responsive: false,
            animation: false,
            devicePixelRatio: 1,
            layout: { padding: { top: 83, left: labelLeft, right: 48, bottom: 19 } },
            plugins: { legend: { display: false }, tooltip: { enabled: false } },
            scales: {
                x: {
                    type: "linear",
                    min: 0,
                    max: 57,
                    afterBuildTicks: s => { s.ticks = timeTicks.map(v => ({ value: v })); },
                    afterFit: s => { s.height = 147; },
                    ticks: { font: { size: 42 }, padding: 4, autoSkip: false, maxRotation: 0, callback: v => String(v) },
                    grid: gridStyle,
                    border: { display: false },
                    title: { display: true, text: "Time (s)", font: { size: 58 }, padding: 0 }
                },
                y: {
                    type: "linear",
                    min: yMin,
                    max: yMax,
                    afterBuildTicks: s => { s.ticks = yTicks.map(v => ({ value: v })); },
                    afterFit: s => { s.width = 301 - labelLeft; },
                    ticks: { font: { size: 42 }, padding: 14, autoSkip: false, callback: v => tickText(v, digits) },
                    grid: gridStyle,
                    border: { display: false },
                    title: { display: true, text: yLabel, font: { size: 58 }, padding: 0 }
                }
            }
        },
        plugins: [framePlugin]
    });
}

// ===============================
// CHARTS
// ===============================
const accPoints = toPoints(accTime, accValue).concat(
    accTail.map((v, i) => ({ x: +(accTailStart + i * accTailStep).toFixed(2), y: v }))
);

drawTrace("accChart", accPoints, "#000000", -0.655, 0.655, accTicks, 2, "Acceleration (cm/s/s)", 61);
drawTrace("velChart", toPoints(velTime, velValue), "#0000ff", -0.0312, 0.0311, velTicks, 2, "Velocity (cm/s)", 61);
drawTrace("dispChart", toPoints(dispTime, dispValue), "#ff0000", -0.0028, 0.0028, dispTicks, 3, "Displacement (cm)", 36);
</script>
</body>
</html>
